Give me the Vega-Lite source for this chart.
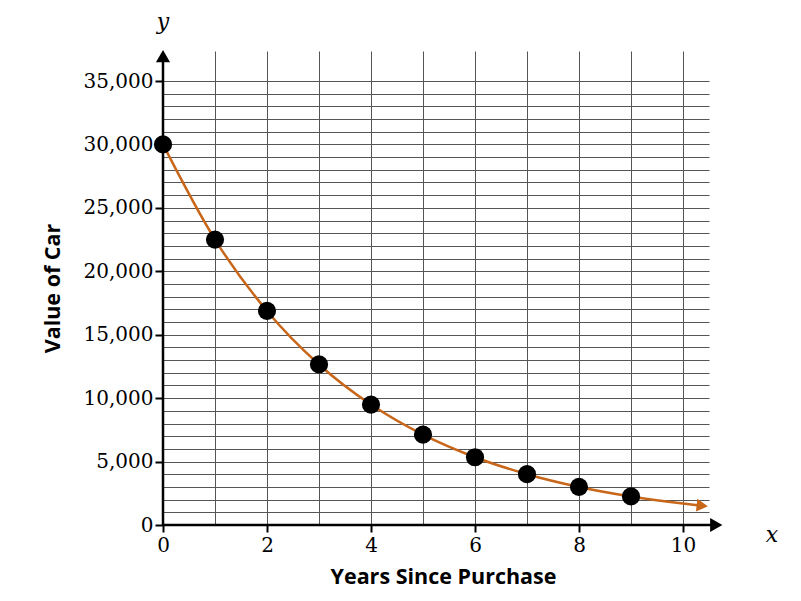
{
  "$schema": "https://vega.github.io/schema/vega-lite/v6.json",
  "width": 546,
  "height": 474,
  "autosize": "none",
  "padding": {"left": 163, "top": 51, "right": 92, "bottom": 76},
  "background": "white",
  "config": {"view": {"stroke": null}},
  "datasets": {
    "points": [
      {"year": 0, "value": 30000},
      {"year": 1, "value": 22500},
      {"year": 2, "value": 16875},
      {"year": 3, "value": 12656},
      {"year": 4, "value": 9492},
      {"year": 5, "value": 7119},
      {"year": 6, "value": 5339},
      {"year": 7, "value": 4005},
      {"year": 8, "value": 3003},
      {"year": 9, "value": 2253}
    ],
    "curve": [
      {"year": 0, "value": 30000},
      {"year": 1, "value": 22500},
      {"year": 2, "value": 16875},
      {"year": 3, "value": 12656},
      {"year": 4, "value": 9492},
      {"year": 5, "value": 7119},
      {"year": 6, "value": 5339},
      {"year": 7, "value": 4005},
      {"year": 8, "value": 3003},
      {"year": 9, "value": 2253},
      {"year": 10, "value": 1689},
      {"year": 10.4, "value": 1500}
    ],
    "curveArrow": [{"year": 10.37, "value": 1519}],
    "axesLines": [
      {"x": 0, "y": 0, "x2": 10.64, "y2": 0},
      {"x": 0, "y": 0, "x2": 0, "y2": 36970}
    ],
    "xArrow": [{"x": 10.64, "y": 0}],
    "yArrow": [{"x": 0, "y": 36970}],
    "axisNames": [
      {"x": 11.71, "y": -790, "name": "x"},
      {"x": 0, "y": 39650, "name": "y"}
    ]
  },
  "layer": [
    {
      "data": {"name": "points"},
      "mark": {"type": "point", "opacity": 0},
      "encoding": {
        "x": {
          "field": "year",
          "type": "quantitative",
          "scale": {"domain": [0, 10.5], "nice": false, "zero": false},
          "axis": {
            "values": [0, 1, 2, 3, 4, 5, 6, 7, 8, 9, 10],
            "tickCount": 20,
            "labelExpr": "datum.value % 2 === 0 ? datum.value : ''",
            "labelOverlap": false,
            "labelFlush": false,
            "labelFont": "DejaVu Serif",
            "labelFontSize": 20,
            "labelColor": "black",
            "labelPadding": 3,
            "tickColor": "black",
            "tickWidth": 2,
            "tickSize": 7,
            "tickOpacity": {"condition": {"test": "datum.value % 2 === 0", "value": 1}, "value": 0},
            "domain": false,
            "grid": true,
            "gridColor": "#555555",
            "gridWidth": 1,
            "gridOpacity": 1,
            "title": "Years Since Purchase",
            "titleFont": "Open Sans",
            "titleFontWeight": "bold",
            "titleFontSize": 21.5,
            "titleColor": "black",
            "titlePadding": 11,
            "titleX": 280
          }
        },
        "y": {
          "field": "value",
          "type": "quantitative",
          "scale": {"domain": [0, 37365], "nice": false, "zero": true},
          "axis": {
            "values": [0, 1000, 2000, 3000, 4000, 5000, 6000, 7000, 8000, 9000, 10000, 11000, 12000, 13000, 14000, 15000, 16000, 17000, 18000, 19000, 20000, 21000, 22000, 23000, 24000, 25000, 26000, 27000, 28000, 29000, 30000, 31000, 32000, 33000, 34000, 35000],
            "tickCount": 60,
            "labelExpr": "datum.value % 5000 === 0 ? format(datum.value, ',') : ''",
            "labelOverlap": false,
            "labelFlush": false,
            "labelFont": "DejaVu Serif",
            "labelFontSize": 20,
            "labelColor": "black",
            "labelPadding": 2,
            "tickColor": "black",
            "tickWidth": 2,
            "tickSize": 8,
            "tickOpacity": {"condition": {"test": "datum.value % 5000 === 0", "value": 1}, "value": 0},
            "domain": false,
            "grid": true,
            "gridColor": "#555555",
            "gridWidth": 1,
            "gridOpacity": 1,
            "title": "Value of Car",
            "titleFont": "Open Sans",
            "titleFontWeight": "bold",
            "titleFontSize": 21.5,
            "titleColor": "black",
            "titlePadding": 19
          }
        }
      }
    },
    {
      "data": {"name": "axesLines"},
      "mark": {"type": "rule", "color": "black", "strokeWidth": 2.5},
      "encoding": {
        "x": {"field": "x", "type": "quantitative"},
        "y": {"field": "y", "type": "quantitative"},
        "x2": {"field": "x2"},
        "y2": {"field": "y2"}
      }
    },
    {
      "data": {"name": "xArrow"},
      "mark": {"type": "point", "shape": "triangle-right", "filled": true, "color": "black", "size": 200, "opacity": 1},
      "encoding": {
        "x": {"field": "x", "type": "quantitative"},
        "y": {"field": "y", "type": "quantitative"}
      }
    },
    {
      "data": {"name": "yArrow"},
      "mark": {"type": "point", "shape": "triangle-up", "filled": true, "color": "black", "size": 200, "opacity": 1},
      "encoding": {
        "x": {"field": "x", "type": "quantitative"},
        "y": {"field": "y", "type": "quantitative"}
      }
    },
    {
      "data": {"name": "curve"},
      "mark": {"type": "line", "interpolate": "monotone", "color": "#c8661a", "strokeWidth": 2.5, "clip": false},
      "encoding": {
        "x": {"field": "year", "type": "quantitative"},
        "y": {"field": "value", "type": "quantitative"}
      }
    },
    {
      "data": {"name": "curveArrow"},
      "mark": {"type": "point", "shape": "triangle-right", "filled": true, "color": "#c8661a", "size": 170, "angle": 6, "opacity": 1},
      "encoding": {
        "x": {"field": "year", "type": "quantitative"},
        "y": {"field": "value", "type": "quantitative"}
      }
    },
    {
      "data": {"name": "points"},
      "mark": {"type": "circle", "color": "black", "size": 330, "opacity": 1},
      "encoding": {
        "x": {"field": "year", "type": "quantitative"},
        "y": {"field": "value", "type": "quantitative"}
      }
    },
    {
      "data": {"name": "axisNames"},
      "mark": {"type": "text", "font": "DejaVu Serif", "fontStyle": "italic", "fontSize": 22, "color": "black", "baseline": "middle", "align": "center"},
      "encoding": {
        "x": {"field": "x", "type": "quantitative"},
        "y": {"field": "y", "type": "quantitative"},
        "text": {"field": "name"}
      }
    }
  ]
}
